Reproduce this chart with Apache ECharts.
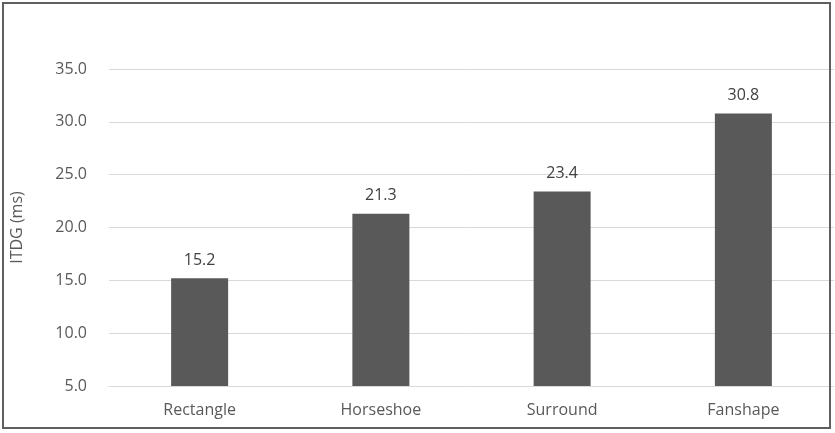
<!DOCTYPE html>
<html>
<head>
<meta charset="utf-8">
<script src="https://cdn.jsdelivr.net/npm/echarts@6/dist/echarts.min.js"></script>
<style>
html,body{margin:0;padding:0;background:#fff;}
#wrap{position:absolute;left:2px;top:2px;width:829px;height:427px;border:2px solid #5f5f5f;box-sizing:border-box;}
#chart{position:absolute;left:0;top:0;width:835px;height:433px;}
</style>
</head>
<body>
<div id="chart"></div>
<div id="wrap"></div>
<script>
const categories = ['Rectangle', 'Horseshoe', 'Surround', 'Fanshape'];
const itdgValues = [15.2, 21.3, 23.4, 30.8];
const yAxisName = 'ITDG (ms)';

const chart = echarts.init(document.getElementById('chart'), null, {renderer: 'canvas'});
const font = '"Open Sans", "Noto Sans", sans-serif';
chart.setOption({
  animation: false,
  backgroundColor: '#ffffff',
  grid: {left: 109, right: 1, top: 69, bottom: 47, containLabel: false},
  xAxis: {
    type: 'category',
    data: categories,
    axisLine: {show: true, lineStyle: {color: '#d9d9d9', width: 1}},
    axisTick: {show: false},
    axisLabel: {color: '#595959', fontSize: 16, fontFamily: font, margin: 16}
  },
  yAxis: {
    type: 'value',
    min: 5, max: 35, interval: 5,
    name: yAxisName,
    nameLocation: 'middle',
    nameGap: 84,
    nameRotate: 90,
    nameTextStyle: {color: '#595959', fontSize: 16, fontFamily: font},
    axisLine: {show: false},
    axisTick: {show: false},
    splitLine: {lineStyle: {color: '#d9d9d9', width: 1}},
    axisLabel: {color: '#595959', fontSize: 16, fontFamily: font, margin: 22,
      formatter: v => v.toFixed(1)}
  },
  series: [{
    type: 'bar',
    data: itdgValues,
    barWidth: 57,
    itemStyle: {color: '#595959'},
    label: {show: true, position: 'top', distance: 10, color: '#404040', fontSize: 16, fontFamily: font,
      formatter: p => p.value.toFixed(1)}
  }]
});
</script>
</body>
</html>
